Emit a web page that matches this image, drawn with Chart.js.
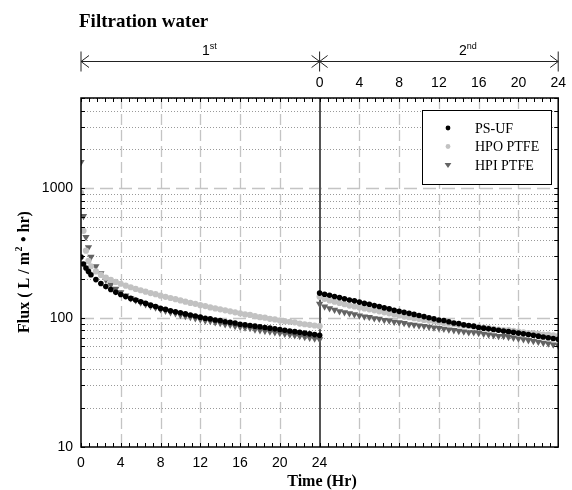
<!DOCTYPE html>
<html>
<head>
<meta charset="utf-8">
<title>Filtration water</title>
<script src="https://cdn.jsdelivr.net/npm/chart.js@4.4.1/dist/chart.umd.min.js"></script>
<style>
  html, body { margin: 0; padding: 0; background: #fff; }
  canvas { display: block; }
</style>
</head>
<body>
<canvas id="flux" width="572" height="490"></canvas>
<script>
// sampling times (hr) of each run; the 2nd run is plotted after the 1st on a 0-48 h axis
const runOneTimes = [0, 0.25, 0.5, 0.75, 1, 1.5, 2, 2.5, 3, 3.5, 4, 4.5, 5, 5.5, 6, 6.5, 7, 7.5, 8, 8.5,
  9, 9.5, 10, 10.5, 11, 11.5, 12, 12.5, 13, 13.5, 14, 14.5, 15, 15.5, 16, 16.5, 17, 17.5, 18, 18.5,
  19, 19.5, 20, 20.5, 21, 21.5, 22, 22.5, 23, 23.5, 24];
const runTwoTimes = [0, 0.5, 1, 1.5, 2, 2.5, 3, 3.5, 4, 4.5, 5, 5.5, 6, 6.5, 7, 7.5, 8, 8.5, 9, 9.5,
  10, 10.5, 11, 11.5, 12, 12.5, 13, 13.5, 14, 14.5, 15, 15.5, 16, 16.5, 17, 17.5, 18, 18.5, 19, 19.5,
  20, 20.5, 21, 21.5, 22, 22.5, 23, 23.5, 24];

// flux, L/m2.hr
const psufRunOne = [295, 260, 242, 228, 215, 197, 184, 174, 165, 157, 151, 146, 141, 137, 133, 129, 125, 122, 118, 116,
  113, 111, 109, 107, 105, 103, 101, 99, 98, 96, 95, 93, 92, 91, 89, 88, 87, 86, 85, 84,
  83, 82, 81, 80, 79, 78, 77, 76, 75, 74, 73];
const hpoRunOne = [925, 470, 330, 275, 250, 228, 214, 204, 196, 189, 183, 177, 172, 167, 163, 159, 155, 152, 148, 145,
  142, 139, 136, 133, 130, 128, 125, 123, 120, 118, 116, 114, 112, 110, 108, 106, 105, 103, 101, 100,
  98, 97, 95, 94, 93, 92, 90, 89, 88, 87, 86];
const hpiRunOne = [1600, 610, 420, 350, 295, 250, 220, 196, 180, 167, 157, 148, 141, 136, 131, 127, 123, 120, 116, 113,
  110, 108, 105, 103, 101, 99, 97, 95, 94, 92, 91, 89, 88, 86, 85, 84, 83, 81, 80, 79,
  78, 77, 76, 75, 74, 73, 72, 71, 70, 69, 68];

const psufRunTwo = [155, 152, 149, 146, 143, 140, 137, 135, 132, 129, 127, 124, 122, 119, 117, 114, 112, 110, 108, 106,
  104, 102, 100, 98, 96, 95, 93, 91, 90, 88, 87, 86, 84, 83, 82, 81, 80, 79, 78, 77,
  76, 75, 74, 73, 72, 71, 70, 69, 68];
const hpoRunTwo = [145, 140, 136, 133, 130, 127, 124, 122, 120, 118, 116, 114, 112, 110, 108, 106, 104, 102, 101, 99,
  98, 96, 95, 94, 92, 91, 90, 89, 88, 87, 86, 85, 85, 84, 83, 82, 81, 80, 80, 79,
  78, 77, 76, 76, 75, 74, 74, 73, 72];
const hpiRunTwo = [128, 122, 118, 115, 112, 110, 108, 106, 104, 102, 101, 99, 98, 96, 95, 93, 92, 91, 89, 88,
  87, 86, 85, 84, 83, 82, 81, 80, 79, 78, 77, 77, 76, 75, 74, 73, 72, 72, 71, 70,
  69, 68, 67, 66, 65, 64, 63, 62, 61];

const runLength = 24;
const bottomHours = [0, 4, 8, 12, 16, 20, 24];     // labelled under the 1st run
const topHours = [24, 28, 32, 36, 40, 44, 48];     // labelled over the 2nd run (shown as 0..24)
const gridHours = [4, 8, 12, 16, 20, 28, 32, 36, 40, 44];
const fluxLabels = [10, 100, 1000];

function toPoints(times, values, offset) {
  return times.map((t, i) => ({ x: t + offset, y: values[i] }));
}

const tickFont = { family: '"Liberation Sans", Arial, sans-serif', size: 14 };
const serif = '"Liberation Serif", "Times New Roman", serif';

function line(ctx, x1, y1, x2, y2) {
  ctx.beginPath();
  ctx.moveTo(x1, y1);
  ctx.lineTo(x2, y2);
  ctx.stroke();
}

// every decade step between 10 and 5000 for the minor ticks / dotted lines
const fluxTicks = [];
for (const d of [10, 100, 1000]) {
  for (let m = 1; m <= 9; m++) {
    if (d * m <= 5000) fluxTicks.push(d * m);
  }
}

const decorations = {
  id: 'decorations',
  beforeDatasetsDraw(chart) {
    const { ctx, chartArea: a, scales: { x, y } } = chart;
    ctx.save();
    ctx.lineWidth = 1;

    // dotted minor flux lines
    ctx.strokeStyle = '#999';
    ctx.setLineDash([1, 2]);
    for (const v of fluxTicks) {
      if (fluxLabels.includes(v)) continue;
      const py = Math.round(y.getPixelForValue(v)) + 0.5;
      line(ctx, a.left, py, a.right, py);
    }

    // dashed decade lines and hour lines
    ctx.strokeStyle = '#c4c4c4';
    ctx.lineWidth = 1.3;
    ctx.setLineDash([13, 6]);
    for (const v of [100, 1000]) {
      const py = Math.round(y.getPixelForValue(v)) + 0.5;
      line(ctx, a.left, py, a.right, py);
    }
    ctx.setLineDash([11, 5]);
    for (const h of gridHours) {
      const px = Math.round(x.getPixelForValue(h)) + 0.5;
      line(ctx, px, a.top, px, a.bottom);
    }

    // boundary between the two runs
    ctx.setLineDash([]);
    ctx.strokeStyle = '#555';
    ctx.lineWidth = 2;
    const xs = Math.round(x.getPixelForValue(runLength));
    line(ctx, xs, a.top, xs, a.bottom);
    ctx.restore();
  },
  afterDraw(chart) {
    const { ctx, chartArea: a, scales: { x, y } } = chart;
    ctx.save();

    // frame and inward ticks
    ctx.strokeStyle = '#000';
    ctx.lineWidth = 1.5;
    ctx.strokeRect(a.left, a.top, a.right - a.left, a.bottom - a.top);
    ctx.lineWidth = 1;
    for (let k = 0; k <= 60; k++) {
      const px = Math.round(x.getPixelForValue(k * 0.8)) + 0.5;
      line(ctx, px, a.bottom, px, a.bottom - 4);
      line(ctx, px, a.top, px, a.top + 4);
    }
    for (const v of fluxTicks) {
      const py = Math.round(y.getPixelForValue(v)) + 0.5;
      line(ctx, a.left, py, a.left + 4, py);
      line(ctx, a.right, py, a.right - 4, py);
    }

    // legend
    const lx = 422.5, ly = 110.5, lw = 129, lh = 74;
    ctx.fillStyle = '#fff';
    ctx.fillRect(lx, ly, lw, lh);
    ctx.strokeRect(lx, ly, lw, lh);
    ctx.font = '14px ' + serif;
    ctx.textBaseline = 'middle';
    ctx.textAlign = 'left';
    chart.data.datasets.forEach((ds, i) => {
      const ry = 128 + i * 18.5;
      ctx.fillStyle = ds.backgroundColor;
      ctx.beginPath();
      if (ds.pointStyle === 'triangle') {
        const r = 3.4;
        ctx.moveTo(448 - r, ry - r * 0.6);
        ctx.lineTo(448 + r, ry - r * 0.6);
        ctx.lineTo(448, ry + r * 0.9);
        ctx.closePath();
      } else {
        ctx.arc(448, ry, 2.4, 0, Math.PI * 2);
      }
      ctx.fill();
      ctx.fillStyle = '#000';
      ctx.fillText(ds.label, 475, ry + 1);
    });

    // run arrows above the plot
    const x0 = x.getPixelForValue(0), x1 = x.getPixelForValue(runLength), x2 = x.getPixelForValue(2 * runLength);
    const ay = 61.5;
    ctx.strokeStyle = '#222';
    ctx.lineWidth = 1;
    line(ctx, x0, ay, x2, ay);
    for (const px of [x0, x1, x2]) line(ctx, px, ay - 10, px, ay + 10);
    const head = (tip, dir) => {
      line(ctx, tip, ay, tip + dir * 8, ay - 6);
      line(ctx, tip, ay, tip + dir * 8, ay + 6);
    };
    head(x0, 1);
    head(x1, -1);
    head(x1, 1);
    head(x2, -1);

    ctx.fillStyle = '#000';
    ctx.textBaseline = 'alphabetic';
    const ordinal = (px, num, suf) => {
      ctx.font = '14px "Liberation Sans", Arial, sans-serif';
      ctx.fillText(num, px, 55);
      const w = ctx.measureText(num).width;
      ctx.font = '9px "Liberation Sans", Arial, sans-serif';
      ctx.fillText(suf, px + w, 49);
    };
    ordinal(202, '1', 'st');
    ordinal(459, '2', 'nd');

    // titles
    ctx.font = 'bold 19px ' + serif;
    ctx.fillText('Filtration water', 79, 27);

    ctx.font = 'bold 16px ' + serif;
    ctx.textAlign = 'center';
    ctx.fillText('Time (Hr)', 322, 486);

    // rotated flux label with superscript
    ctx.save();
    ctx.translate(29, (a.top + a.bottom) / 2);
    ctx.rotate(-Math.PI / 2);
    ctx.textAlign = 'left';
    const partA = 'Flux ( L / m', partB = '2', partC = ' \u2022 hr)';
    ctx.font = 'bold 16px ' + serif;
    const wA = ctx.measureText(partA).width, wC = ctx.measureText(partC).width;
    ctx.font = 'bold 10px ' + serif;
    const wB = ctx.measureText(partB).width;
    let cx = -(wA + wB + wC) / 2;
    ctx.font = 'bold 16px ' + serif;
    ctx.fillText(partA, cx, 0);
    cx += wA;
    ctx.font = 'bold 10px ' + serif;
    ctx.fillText(partB, cx + 0.5, -7);
    cx += wB + 1;
    ctx.font = 'bold 16px ' + serif;
    ctx.fillText(partC, cx, 0);
    ctx.restore();

    ctx.restore();
  }
};

new Chart(document.getElementById('flux'), {
  type: 'scatter',
  data: {
    datasets: [
      {
        label: 'PS-UF',
        data: toPoints(runOneTimes, psufRunOne, 0).concat(toPoints(runTwoTimes, psufRunTwo, runLength)),
        pointStyle: 'circle', pointRadius: 2.8, borderWidth: 0,
        backgroundColor: '#000', borderColor: '#000'
      },
      {
        label: 'HPO PTFE',
        data: toPoints(runOneTimes, hpoRunOne, 0).concat(toPoints(runTwoTimes, hpoRunTwo, runLength)),
        pointStyle: 'circle', pointRadius: 3.1, borderWidth: 0,
        backgroundColor: '#c2c2c2', borderColor: '#c2c2c2'
      },
      {
        label: 'HPI PTFE',
        data: toPoints(runOneTimes, hpiRunOne, 0).concat(toPoints(runTwoTimes, hpiRunTwo, runLength)),
        pointStyle: 'triangle', rotation: 180, pointRadius: 4.2, borderWidth: 0,
        backgroundColor: '#636363', borderColor: '#636363'
      }
    ]
  },
  options: {
    responsive: false,
    animation: false,
    events: [],
    layout: { padding: { left: 0, right: 10, top: 0, bottom: 0 } },
    plugins: { legend: { display: false }, tooltip: { enabled: false } },
    scales: {
      x: {
        type: 'linear', position: 'bottom', min: 0, max: 2 * runLength,
        afterBuildTicks: s => { s.ticks = bottomHours.map(v => ({ value: v })); },
        afterFit: s => { s.height = 43; },
        grid: { display: false, drawTicks: false }, border: { display: false },
        ticks: { font: tickFont, color: '#000', padding: 8, maxRotation: 0, autoSkip: false, callback: v => String(v) }
      },
      x2: {
        type: 'linear', axis: 'x', position: 'top', min: 0, max: 2 * runLength,
        afterBuildTicks: s => { s.ticks = topHours.map(v => ({ value: v })); },
        afterFit: s => { s.height = 98; },
        grid: { display: false, drawTicks: false }, border: { display: false },
        ticks: { font: tickFont, color: '#000', padding: 6, maxRotation: 0, autoSkip: false, callback: v => String(v - runLength) }
      },
      y: {
        type: 'logarithmic', min: 10, max: 5000,
        afterBuildTicks: s => { s.ticks = fluxLabels.map(v => ({ value: v })); },
        afterFit: s => { s.width = 81; },
        grid: { display: false, drawTicks: false }, border: { display: false },
        ticks: { font: tickFont, color: '#000', padding: 8, autoSkip: false, callback: v => String(v) }
      }
    }
  },
  plugins: [decorations]
});
</script>
</body>
</html>
